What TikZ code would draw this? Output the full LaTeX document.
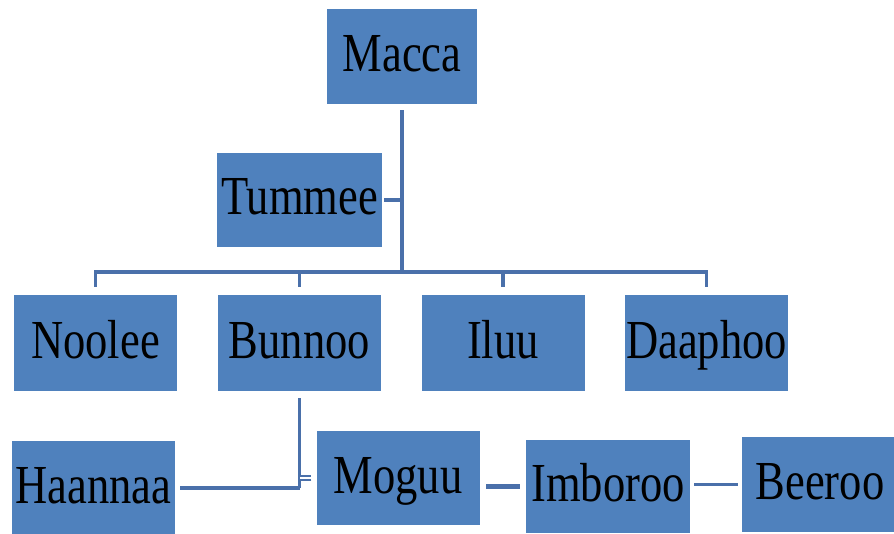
\documentclass[tikz,border=0pt]{standalone}
\usepackage{fontspec}
\newfontfamily\boxfont[FakeStretch=0.81]{Liberation Serif}
\definecolor{boxblue}{HTML}{4F81BD}
\definecolor{linkblue}{HTML}{4A70AA}
\begin{document}
\begin{tikzpicture}[x=1bp, y=-1bp,
		every node/.style={rectangle,fill=boxblue,inner sep=0pt,minimum width=163bp,minimum height=94bp,
			font=\boxfont\fontsize{55bp}{60bp}\selectfont,text height=36bp,text depth=6bp},
		link/.style={draw=linkblue,line width=3.5bp},
		trunk/.style={link,line width=4bp},
		heavy/.style={link,line width=5.5bp},
		twin/.style={draw=linkblue,double=white,double distance=2bp,line width=2bp}]
		\useasboundingbox (0,0) rectangle (894,534);

		%––––– row 1 –––––
		\node (macca) at (402,56.5) [minimum width=150bp,minimum height=95bp] {Macca};
		\coordinate (hub) at (402,272);
		\draw[trunk, shorten <=6bp] (macca) -- (hub);

		\node (tummee) at (299.5,200) [minimum width=165bp] {Tummee};
		\draw[link, shorten <=2bp] (tummee) -- (tummee -| hub);

		%––––– row 2 –––––
		\node (noolee) at (95.5,343) [minimum height=96bp] {Noolee};
		\draw[link, shorten <=8bp] (noolee) |- (hub);

		\node (bunnoo) at (299.5,343) [minimum height=96bp] {Bunnoo};
		\draw[link, shorten <=8bp] (bunnoo) |- (hub);

		\node (iluu) at (503,343) [minimum height=96bp] {Iluu};
		\draw[link, shorten <=8bp] (iluu) |- (hub);

		\node (daaphoo) at (706.5,343) [minimum height=96bp] {Daaphoo};
		\draw[link, shorten <=8bp] (daaphoo) |- (hub);

		%––––– row 3 –––––
		\node (haannaa) at (93.5,488) {Haannaa};
		\coordinate (elbow) at (bunnoo |- haannaa);
		\draw[link, shorten <=7bp] (bunnoo) -- (elbow);
		\draw[link, shorten <=5bp] (haannaa) -- (elbow);

		\node (moguu) at (398,478) {Moguu};
		\draw[twin, shorten <=5bp] (moguu) -- (moguu -| elbow);

		\node (imboroo) at (608,486.5) [minimum width=164bp,minimum height=93bp] {Imboroo};
		\draw[heavy, shorten <=6bp, shorten >=6bp] (imboroo) -- (imboroo -| moguu.east);

		\node (beeroo) at (820,484.5) [minimum width=156bp,minimum height=95bp] {Beeroo};
		\draw[link, shorten <=4bp, shorten >=4bp] (beeroo) -- (beeroo -| imboroo.east);
	\end{tikzpicture}
\end{document}
